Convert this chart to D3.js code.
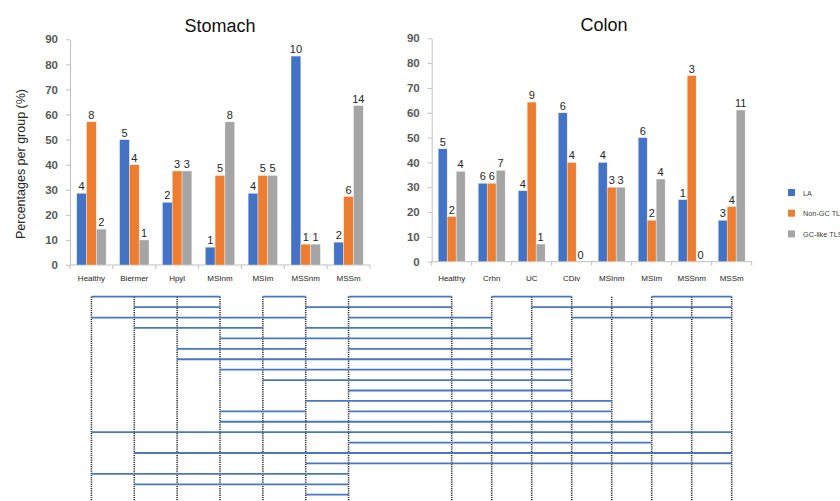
<!DOCTYPE html>
<html>
<head>
<meta charset="utf-8">
<script src="https://cdn.jsdelivr.net/npm/d3@7"></script>
<style>
  body { margin: 0; background: #fff; }
  svg { display: block; font-family: "Liberation Sans", Arial, sans-serif; }
</style>
</head>
<body>
<script>
// series
const seriesNames = ["LA", "Non-GC TLS", "GC-like TLS"];
const seriesColors = ["#4472C4", "#ED7D31", "#A5A5A5"];

// stomach: percentages per group and counts shown above bars
const stomachGroups = ["Healthy", "Biermer", "Hpyl", "MSInm", "MSIm", "MSSnm", "MSSm"];
const stomachLA     = [28.6, 50, 25, 7.1, 28.6, 83.3, 9.1];
const stomachNonGC  = [57.1, 40, 37.5, 35.7, 35.7, 8.3, 27.3];
const stomachGC     = [14.3, 10, 37.5, 57.1, 35.7, 8.3, 63.6];
const stomachNLA    = [4, 5, 2, 1, 4, 10, 2];
const stomachNNonGC = [8, 4, 3, 5, 5, 1, 6];
const stomachNGC    = [2, 1, 3, 8, 5, 1, 14];

// colon
const colonGroups = ["Healthy", "Crhn", "UC", "CDiv", "MSInm", "MSIm", "MSSnm", "MSSm"];
const colonLA     = [45.5, 31.6, 28.6, 60, 40, 50, 25, 16.7];
const colonNonGC  = [18.2, 31.6, 64.3, 40, 30, 16.7, 75, 22.2];
const colonGC     = [36.4, 36.8, 7.1, 0, 30, 33.3, 0, 61.1];
const colonNLA    = [5, 6, 4, 6, 4, 6, 1, 3];
const colonNNonGC = [2, 6, 9, 4, 3, 2, 3, 4];
const colonNGC    = [4, 7, 1, 0, 3, 4, 0, 11];

const yTicks = [0, 10, 20, 30, 40, 50, 60, 70, 80, 90];

// comparison lines under the charts: [row, fromGroup, toGroup]
// groups 0-6 are stomach, 7-14 are colon
const comparisons = [
  [0, 0, 3], [0, 4, 5], [0, 6, 7], [0, 8, 10], [0, 12, 14],
  [1, 1, 3], [1, 5, 7], [1, 9, 14],
  [2, 0, 5], [2, 6, 8], [2, 10, 14],
  [3, 1, 4], [3, 5, 8],
  [4, 3, 9],
  [5, 2, 5], [5, 6, 9],
  [6, 2, 10],
  [7, 3, 10],
  [8, 4, 10],
  [9, 6, 10],
  [10, 5, 11],
  [11, 3, 5], [11, 6, 11],
  [12, 3, 12],
  [13, 0, 14],
  [14, 6, 12],
  [15, 1, 14],
  [16, 5, 14],
  [17, 0, 6],
  [18, 1, 6],
  [19, 5, 6]
];

const width = 840, height = 501;
const svg = d3.select("body").append("svg")
    .attr("width", width)
    .attr("height", height)
    .style("background", "#fff");

function drawPanel(p) {
  const x0 = d3.scaleBand().domain(p.groups).range([p.left, p.right]);
  const x1 = d3.scaleBand().domain(seriesNames)
      .range([x0.step() * p.inset, x0.step() * (1 - p.inset)]);
  const y = d3.scaleLinear().domain([0, 90]).range([p.bottom, p.top]);

  const g = svg.append("g");

  g.append("text")
      .attr("x", (p.left + p.right) / 2 + p.titleShift)
      .attr("y", p.titleY)
      .attr("text-anchor", "middle")
      .attr("font-size", 18)
      .attr("fill", "#111")
      .text(p.title);

  const yAxis = g.append("g")
      .attr("transform", `translate(${p.left},0)`)
      .call(d3.axisLeft(y).tickValues(yTicks).tickSize(4).tickSizeOuter(0).tickPadding(8));
  yAxis.select(".domain").attr("stroke", "#bfbfbf");
  yAxis.selectAll(".tick line").attr("stroke", "#bfbfbf");
  yAxis.selectAll(".tick text")
      .attr("font-size", 11.5)
      .attr("font-weight", "bold")
      .attr("fill", "#595959")
      .attr("font-family", "Liberation Sans, Arial, sans-serif");

  // x axis line with ticks at group boundaries
  const bounds = p.groups.map(d => x0(d)).concat([p.right]);
  g.append("line")
      .attr("x1", p.left).attr("x2", p.right)
      .attr("y1", p.bottom).attr("y2", p.bottom)
      .attr("stroke", "#bfbfbf");
  g.selectAll(".xtick").data(bounds).join("line")
      .attr("x1", d => d).attr("x2", d => d)
      .attr("y1", p.bottom).attr("y2", p.bottom + 4)
      .attr("stroke", "#bfbfbf");
  g.selectAll(".xlab").data(p.groups).join("text")
      .attr("x", d => x0(d) + x0.bandwidth() / 2)
      .attr("y", p.labelY)
      .attr("text-anchor", "middle")
      .attr("font-size", 8)
      .attr("fill", "#262626")
      .text(d => d);

  const rows = p.groups.map((grp, i) => ({
    grp,
    bars: seriesNames.map((s, k) => ({ s, k, v: p.values[k][i], n: p.counts[k][i] }))
  }));

  const grp = g.selectAll(".grp").data(rows).join("g")
      .attr("transform", d => `translate(${x0(d.grp)},0)`);

  grp.selectAll("rect").data(d => d.bars).join("rect")
      .attr("x", d => x1(d.s))
      .attr("y", d => y(d.v))
      .attr("width", x1.bandwidth())
      .attr("height", d => p.bottom - y(d.v))
      .attr("fill", d => seriesColors[d.k])
      .attr("stroke", "#ffffff")
      .attr("stroke-opacity", 0.6)
      .attr("stroke-width", 0.6);

  grp.selectAll(".val").data(d => d.bars).join("text")
      .attr("x", d => x1(d.s) + x1.bandwidth() / 2)
      .attr("y", d => y(d.v) - 3)
      .attr("text-anchor", "middle")
      .attr("font-size", 11)
      .attr("fill", "#262626")
      .text(d => d.n);

  return x0;
}

const xs = drawPanel({
  title: "Stomach", groups: stomachGroups,
  values: [stomachLA, stomachNonGC, stomachGC],
  counts: [stomachNLA, stomachNNonGC, stomachNGC],
  left: 70, right: 370, top: 39.3, bottom: 265, inset: 0.157,
  titleY: 31.5, titleShift: 0, labelY: 281
});
const xc = drawPanel({
  title: "Colon", groups: colonGroups,
  values: [colonLA, colonNonGC, colonGC],
  counts: [colonNLA, colonNNonGC, colonNGC],
  left: 431.7, right: 751.7, top: 38.3, bottom: 261.7, inset: 0.163,
  titleY: 30.5, titleShift: 12.3, labelY: 281
});

// y axis title
svg.append("text")
    .attr("transform", "translate(22,164) rotate(-90)")
    .attr("text-anchor", "middle")
    .attr("dominant-baseline", "middle")
    .attr("font-size", 12.5)
    .attr("fill", "#262626")
    .text("Percentages per group (%)");

// legend (text runs past the right edge, as in the source figure)
const legend = svg.append("g").attr("transform", "translate(788,189)");
const li = legend.selectAll("g").data(seriesNames).join("g")
    .attr("transform", (d, i) => `translate(0,${i * 20.7})`);
li.append("rect")
    .attr("width", 7).attr("height", 7)
    .attr("fill", (d, i) => seriesColors[i]);
li.append("text")
    .attr("x", 15).attr("y", 6.5)
    .attr("font-size", 7.3)
    .attr("fill", "#404040")
    .text(d => d);

// comparison diagram
const colX = stomachGroups.map(d => xs(d) + xs.bandwidth() / 2)
    .concat(colonGroups.map(d => xc(d) + xc.bandwidth() / 2));
const rowY = d3.scaleLinear().domain([0, 19]).range([296.7, 494.7]);

svg.append("g").selectAll("line").data(colX).join("line")
    .attr("x1", d => d).attr("x2", d => d)
    .attr("y1", rowY(0)).attr("y2", height)
    .attr("stroke", "#333")
    .attr("stroke-width", 1.6)
    .attr("stroke-dasharray", "1.2,1");

svg.append("g").selectAll("line").data(comparisons).join("line")
    .attr("x1", d => colX[d[1]]).attr("x2", d => colX[d[2]])
    .attr("y1", d => rowY(d[0])).attr("y2", d => rowY(d[0]))
    .attr("stroke", "#4a76c0")
    .attr("stroke-width", 1.8);
</script>
</body>
</html>
